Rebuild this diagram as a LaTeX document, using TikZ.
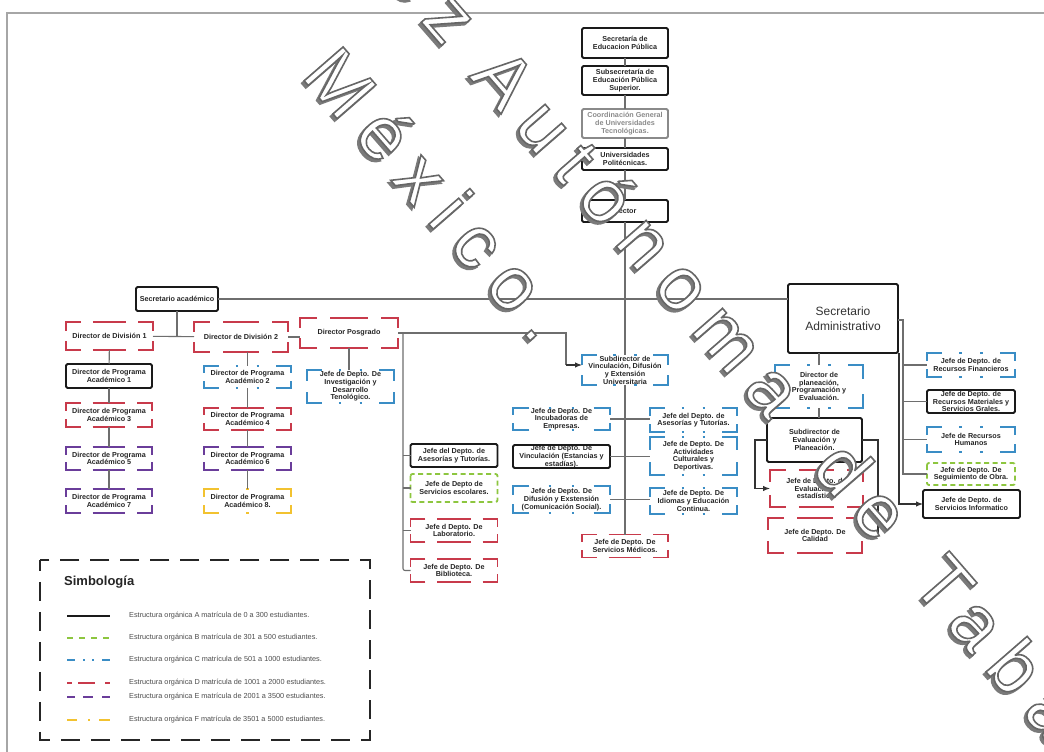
\documentclass[tikz,border=0pt]{standalone}
\usepackage{fontspec}
\setmainfont{Liberation Sans}
\newfontfamily\wmfont[LetterSpace=22]{Liberation Sans}
\usetikzlibrary{arrows.meta,calc}

\definecolor{cA}{HTML}{1A1A1A}
\definecolor{cB}{HTML}{8DC63F}
\definecolor{cC}{HTML}{3A8DC5}
\definecolor{cD}{HTML}{C83A4B}
\definecolor{cE}{HTML}{6A3D9A}
\definecolor{cF}{HTML}{F2C230}
\definecolor{cG}{HTML}{8A8A8A}
\definecolor{linegray}{HTML}{6E6E6E}
\definecolor{wmshade}{HTML}{7A7A7A}

\newcommand\boxfont{\bfseries\fontsize{7.2}{7.7}\selectfont}
% outlined lettering: white fill with a grey stroke
\newcommand\outlined[1]{\special{pdf:literal direct 2 Tr 1.6 w 0.40 G}#1\special{pdf:literal direct 0 Tr}}
% solid grey lettering used as the drop shade
\newcommand\shaded[1]{\special{pdf:literal direct 2 Tr 1.6 w 0.48 G}#1\special{pdf:literal direct 0 Tr}}

\tikzset{
  boxtxt/.style={inner sep=0pt, outer sep=0pt, align=center, font=\boxfont, text=black!85},
  frm/.style={line width=1.8pt},
  conn/.style={draw=linegray, line width=1.1pt},
  arr/.style={draw=black!80, line width=1.1pt, -{Latex[length=7pt,width=5.5pt]}},
  legtxt/.style={inner sep=0pt, anchor=west, font=\fontsize{7.3}{8}\selectfont, text=black!70},
  legline/.style={line width=2.4pt},
  wm/.style={inner sep=0pt, anchor=base west, rotate=-49, text=white, font=\wmfont\fontsize{75}{75}\selectfont}
}

% corner brackets shared by the dashed frames
\newcommand\corners[4]{%
  \pgfmathsetmacro\ocH{0.17*#3}\pgfmathsetmacro\ocV{0.33*#4}%
  \draw[frm,draw=#2] ([xshift=\ocH pt]#1.north west) -- (#1.north west) -- ([yshift=-\ocV pt]#1.north west);
  \draw[frm,draw=#2] ([xshift=-\ocH pt]#1.north east) -- (#1.north east) -- ([yshift=-\ocV pt]#1.north east);
  \draw[frm,draw=#2] ([xshift=\ocH pt]#1.south west) -- (#1.south west) -- ([yshift=\ocV pt]#1.south west);
  \draw[frm,draw=#2] ([xshift=-\ocH pt]#1.south east) -- (#1.south east) -- ([yshift=\ocV pt]#1.south east);}
% middle dash on top and bottom
\newcommand\middash[3]{%
  \pgfmathsetmacro\ocM{0.19*#3}%
  \draw[frm,draw=#2] ([xshift=-\ocM pt]#1.north) -- ([xshift=\ocM pt]#1.north);
  \draw[frm,draw=#2] ([xshift=-\ocM pt]#1.south) -- ([xshift=\ocM pt]#1.south);}
% a small dot on top and bottom at a given offset from the middle
\newcommand\middot[3]{%
  \pgfmathsetmacro\ocA{#3-1.2}\pgfmathsetmacro\ocB{#3+1.2}%
  \draw[frm,draw=#2] ([xshift=\ocA pt]#1.north) -- ([xshift=\ocB pt]#1.north);
  \draw[frm,draw=#2] ([xshift=\ocA pt]#1.south) -- ([xshift=\ocB pt]#1.south);}

% frame kinds: A solid, B green dashed, C blue dash-dot, D red, E purple, F yellow, G grey
\newcommand\frA[3]{\draw[frm,draw=cA,rounded corners=1.5pt] (#1.north west) rectangle (#1.south east);}
\newcommand\frG[3]{\draw[frm,draw=cG,rounded corners=1.5pt] (#1.north west) rectangle (#1.south east);}
\newcommand\frB[3]{\draw[frm,draw=cB,dash pattern=on 5pt off 3.5pt,rounded corners=2pt] (#1.north west) rectangle (#1.south east);}
\newcommand\frC[3]{\corners{#1}{cC}{#2}{#3}\pgfmathsetmacro\ocD{0.12*#2}\middot{#1}{cC}{-\ocD}\middot{#1}{cC}{\ocD}}
\newcommand\frD[3]{\corners{#1}{cD}{#2}{#3}\middash{#1}{cD}{#2}}
\newcommand\frE[3]{\corners{#1}{cE}{#2}{#3}\middash{#1}{cE}{#2}}
\newcommand\frF[3]{\corners{#1}{cF}{#2}{#3}\middot{#1}{cF}{0}}

% \ob{name}{kind}{cx}{cy}{w}{h}{text}
\newcommand\ob[7]{%
  \node[boxtxt, minimum width=#5pt, minimum height=#6pt] (#1) at (#3,#4) {#7};
  \csname fr#2\endcsname{#1}{#5}{#6}}

\begin{document}
\begin{tikzpicture}[x=1pt,y=-1pt]
\useasboundingbox (0,0) rectangle (1044,752);
\fill[white] (0,0) rectangle (1044,752);

% page frame
\draw[black!35, line width=1.2pt] (1044,13) -- (7,13) -- (7,752);

% ---------- boxes ----------
\ob{sep}{A}{625}{43}{86}{30}{Secretaría de\\Educacion Pública}
\ob{subsec}{A}{625}{80.5}{86}{29}{Subsecretaría de\\Educación Pública\\Superior.}
\ob{coord}{G}{625}{123.5}{86}{29}{\color{cG}Coordinación General\\\color{cG}de Universidades\\\color{cG}Tecnológicas.}
\ob{univpol}{A}{625}{159}{86}{22}{Universidades\\Politécnicas.}
\ob{rector}{A}{625}{211}{86}{22}{Rector}

\ob{secacad}{A}{177}{299}{82}{24}{Secretario académico}
\ob{div1}{D}{109.5}{336}{87}{28}{Director de División 1}
\ob{div2}{D}{241}{337}{94}{30}{Director de División 2}
\ob{posg}{D}{349}{333}{98}{30}{Director Posgrado}

\ob{prog1}{A}{109}{376}{86}{24}{Director de Programa\\Académico 1}
\ob{prog3}{D}{109}{415}{86}{24}{Director de Programa\\Académico 3}
\ob{prog5}{E}{109}{458.5}{86}{23}{Director de Programa\\Académico 5}
\ob{prog7}{E}{109}{501}{86}{24}{Director de Programa\\Académico 7}
\ob{prog2}{C}{247.5}{377}{87}{22}{Director de Programa\\Académico 2}
\ob{prog4}{D}{247.5}{419}{87}{22}{Director de Programa\\Académico 4}
\ob{prog6}{E}{247.5}{458.5}{87}{23}{Director de Programa\\Académico 6}
\ob{prog8}{F}{247.5}{501}{87}{24}{Director de Programa\\Académico 8.}

\ob{invest}{C}{350.5}{386.5}{87}{33}{Jefe de Depto. De\\Investigación y\\Desarrollo\\Tenológico.}
\ob{asesL}{A}{454}{455.5}{87}{23}{Jefe del Depto. de\\Asesorías y Tutorías.}
\ob{escol}{B}{454}{488}{87}{28}{Jefe de Depto de\\Servicios escolares.}
\ob{lab}{D}{454}{530.5}{87}{23}{Jefe d Depto. De\\Laboratorio.}
\ob{biblio}{D}{454}{570.5}{87}{23}{Jefe de Depto. De\\Biblioteca.}

\ob{subvinc}{C}{625}{370}{86}{30}{Subdirector de\\Vinculación, Difusión\\y Extensión\\Universitaria}
\ob{incub}{C}{561.5}{419}{97}{22}{Jefe de Depto. De\\Incubadoras de\\Empresas.}
\ob{vinc}{A}{561.5}{456.5}{97}{23}{Jefe de Depto. De\\Vinculación (Estancias y\\estadías).}
\ob{difus}{C}{561.5}{499.5}{97}{27}{Jefe de Depto. De\\Difusión y Exstensión\\(Comunicación Social).}
\ob{asesR}{C}{693.5}{420}{87}{24}{Jefe del Depto. de\\Asesorías y Tutorías.}
\ob{activ}{C}{693.5}{456}{87}{38}{Jefe de Depto. De\\Actividades\\Culturales y\\Deportivas.}
\ob{idiom}{C}{693.5}{501}{87}{26}{Jefe de Depto. De\\Idiomas y Educación\\Continua.}
\ob{medic}{D}{625}{546}{86}{23}{Jefe de Depto. De\\Servicios Médicos.}

\node[boxtxt, font=\fontsize{12}{14.5}\selectfont, text=black!80, minimum width=110pt, minimum height=69pt] (secadm) at (843,318.5) {Secretario\\Administrativo};
\frA{secadm}{110}{69}
\ob{dirplan}{C}{819}{386.5}{88}{43}{Director de\\planeación,\\Programación y\\Evaluación.}
\ob{subeval}{A}{814.5}{440}{95}{44}{Subdirector de\\Evaluación y\\Planeación.}
\ob{evalest}{D}{816.5}{488.5}{93}{37}{Jefe de Depto. de\\Evaluación y\\estadística.}
\ob{calid}{D}{815}{535.5}{94}{35}{Jefe de Depto. De\\Calidad}

\ob{finan}{C}{971}{365}{88}{24}{Jefe de Depto. de\\Recursos Financieros}
\ob{mater}{A}{971}{401.5}{88}{23}{Jefe de Depto. de\\Recursos Materiales y\\Servicios Grales.}
\ob{human}{C}{971}{439.5}{88}{25}{Jefe de Recursos\\Humanos}
\ob{seguim}{B}{971}{474}{88}{22}{Jefe de Depto. De\\Seguimiento de Obra.}
\ob{servinf}{A}{971.5}{504}{97}{28}{Jefe de Depto. de\\Servicios Informatico}

% ---------- connectors ----------
\draw[conn] (sep) -- (subsec);
\draw[conn] (subsec) -- (coord);
\draw[conn] (coord) -- (univpol);
\draw[conn] (univpol) -- (rector);
\draw[conn] (rector) -- (subvinc);
\draw[conn] (subvinc) -- (medic);
\draw[conn] (secacad.east) -- (secacad.east -| secadm.west);

\draw[conn] (secacad) -- (secacad |- div1);
\draw[conn] (div1) -- (div2);
\draw[conn] (div2) -- (div2 -| posg.west);
\draw[conn] (div1) -- (prog1);
\draw[conn] (prog1) -- (prog3);
\draw[conn] (prog3) -- (prog5);
\draw[conn] (prog5) -- (prog7);
\draw[conn] (prog2.north |- div2.south) -- (prog2.north);
\draw[conn] (prog2) -- (prog4);
\draw[conn] (prog4) -- (prog6);
\draw[conn] (prog6) -- (prog8);
\draw[conn] (posg) -- (posg |- invest.north);

\coordinate (pvturn) at (566,365);
\draw[conn] (posg.east) -| (pvturn);
\draw[arr] (pvturn) -- (pvturn -| subvinc.west);
\coordinate (lbus) at (403,333);
\draw[conn, rounded corners=2pt] (lbus) |- (biblio.west);
\draw[conn] (lbus |- asesL.west) -- (asesL.west);
\draw[conn] (lbus |- escol.west) -- (escol.west);
\draw[conn] (lbus |- lab.west) -- (lab.west);

\draw[conn] (incub.east) -- (incub.east -| asesR.west);
\draw[conn] (vinc.east) -- (vinc.east -| activ.west);
\draw[conn] (difus.east) -- (difus.east -| idiom.west);

\draw[conn] (dirplan.north) -- (dirplan.north |- secadm.south);
\draw[conn] (dirplan.south) -- (dirplan.south |- subeval.north);
\draw[arr] (subeval.west) -- ++(-12,0) |- (evalest.west);
\draw[arr] (subeval.east) -- ++(16,0) |- (calid.east);

\coordinate (rbus) at (903,320);
\draw[conn] (rbus -| secadm.east) -- (rbus) |- (seguim.west);
\draw[conn] (rbus |- finan.west) -- (finan.west);
\draw[conn] (rbus |- mater.west) -- (mater.west);
\draw[conn] (rbus |- human.west) -- (human.west);
\coordinate (ibus) at (899,353);
\draw[arr] (ibus) |- (servinf.west);

% ---------- legend ----------
\node[minimum width=330pt, minimum height=180pt, inner sep=0pt] (legend) at (205,650) {};
\draw[black!85, line width=2.4pt, dash pattern=on 19pt off 11pt, dash phase=8pt] (legend.north west) rectangle (legend.south east);
\node[inner sep=0pt, anchor=west, font=\bfseries\fontsize{13}{15}\selectfont, text=black!85] (legtitle) at (64,582) {Simbología};

\coordinate (lA) at (67,616);  \coordinate (lAe) at (110,616);
\coordinate (lB) at (67,638);  \coordinate (lBe) at (110,638);
\coordinate (lC) at (67,660);  \coordinate (lCe) at (110,660);
\coordinate (lD) at (67,683);  \coordinate (lDe) at (110,683);
\coordinate (lE) at (67,697);  \coordinate (lEe) at (110,697);
\coordinate (lF) at (67,720);  \coordinate (lFe) at (110,720);
\draw[legline, draw=cA] (lA) -- (lAe);
\draw[legline, draw=cB, dash pattern=on 6pt off 6pt] (lB) -- (lBe);
\draw[legline, draw=cC, dash pattern=on 8pt off 8pt on 2pt off 7pt on 2pt off 8pt on 8pt off 20pt] (lC) -- (lCe);
\draw[line width=1.6pt, draw=cD, dash pattern=on 5pt off 6pt on 17pt off 10pt on 5pt off 20pt] (lD) -- (lDe);
\draw[legline, draw=cE, dash pattern=on 8pt off 8pt on 10pt off 9pt on 8pt off 20pt] (lE) -- (lEe);
\draw[legline, draw=cF, dash pattern=on 10pt off 11pt on 2pt off 9pt on 11pt off 20pt] (lF) -- (lFe);
\node[legtxt] (tA) at (129,616) {Estructura orgánica A matrícula de 0 a 300 estudiantes.};
\node[legtxt] (tB) at (129,638) {Estructura orgánica B matrícula de 301 a 500 estudiantes.};
\node[legtxt] (tC) at (129,660) {Estructura orgánica C matrícula de 501 a 1000 estudiantes.};
\node[legtxt] (tD) at (129,683) {Estructura orgánica D matrícula de 1001 a 2000 estudiantes.};
\node[legtxt] (tE) at (129,697) {Estructura orgánica E matrícula de 2001 a 3500 estudiantes.};
\node[legtxt] (tF) at (129,720) {Estructura orgánica F matrícula de 3501 a 5000 estudiantes.};

% ---------- watermark lettering across the sheet (grey shade, then white face) ----------
\coordinate (wmone) at (242,-184);
\coordinate (wmtwo) at (300,76);
\node[wm, text=wmshade] (wmshadeone) at ($(wmone)+(-2.5,2.5)$) {\shaded{Juárez Autónoma\hspace*{26pt} de\hspace*{14pt} Tabasco}};
\node[wm, text=wmshade] (wmshadetwo) at ($(wmtwo)+(-2.5,2.5)$) {\shaded{México.}};
\node[wm] (wmlineone) at (wmone) {\outlined{Juárez Autónoma\hspace*{26pt} de\hspace*{14pt} Tabasco}};
\node[wm] (wmlinetwo) at (wmtwo) {\outlined{México.}};
\end{tikzpicture}
\end{document}
